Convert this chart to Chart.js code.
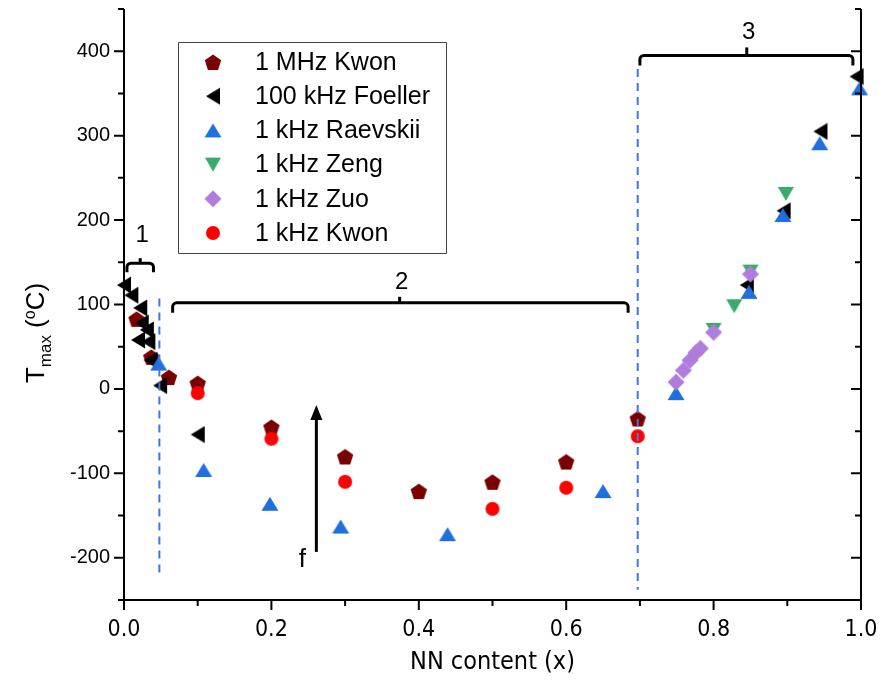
<!DOCTYPE html>
<html>
<head>
<meta charset="utf-8">
<script src="https://cdn.jsdelivr.net/npm/chart.js@4.4.1/dist/chart.umd.min.js"></script>
<style>
  html, body { margin: 0; padding: 0; background: #fff; }
</style>
</head>
<body>
<canvas id="tmaxChart" width="882" height="695"></canvas>
<script>
// Tmax vs NN content
const kwon1MHzX = [0.017, 0.037, 0.061, 0.1, 0.2, 0.3, 0.4, 0.5, 0.6, 0.697];
const kwon1MHzY = [83, 38, 14, 7, -45, -80, -121, -110, -86, -35];

const foellerX = [0.0, 0.01, 0.022, 0.024, 0.031, 0.019, 0.033, 0.036, 0.049, 0.1, 0.845, 0.895, 0.945, 0.994];
const foellerY = [123, 111, 96, 78, 70, 58, 56, 34, 4, -54, 123, 211, 305, 370];

const raevskiiX = [0.047, 0.108, 0.198, 0.294, 0.439, 0.65, 0.749, 0.848, 0.894, 0.944, 0.998];
const raevskiiY = [30, -96, -136, -163, -172, -121, -5, 115, 206, 291, 356];

const zengX = [0.8, 0.828, 0.85, 0.898];
const zengY = [70, 98, 139, 231];

const zuoX = [0.749, 0.759, 0.768, 0.776, 0.782, 0.8, 0.85];
const zuoY = [8, 22, 34, 43, 48, 67, 136];

const kwon1kHzX = [0.1, 0.2, 0.3, 0.5, 0.6, 0.697];
const kwon1kHzY = [-5, -59, -110, -142, -117, -56];

const xTicks = [0, 0.2, 0.4, 0.6, 0.8, 1.0];
const yTicks = [-200, -100, 0, 100, 200, 300, 400];

// marker images (pentagon is not a built-in point style)
function makeMarker(shape, color) {
    const c = document.createElement('canvas');
    c.width = 20; c.height = 20;
    const g = c.getContext('2d');
    const cx = 10, cy = 10;
    g.fillStyle = color;
    g.beginPath();
    if (shape === 'circle') {
        g.arc(cx, cy, 7, 0, Math.PI * 2);
    } else if (shape === 'pentagon') {
        for (let k = 0; k < 5; k++) {
            const a = -Math.PI / 2 + k * 2 * Math.PI / 5;
            g.lineTo(cx + 8.6 * Math.cos(a), cy + 1 + 8.6 * Math.sin(a));
        }
    } else if (shape === 'up') {
        g.moveTo(cx, cy - 7); g.lineTo(cx + 8.5, cy + 7); g.lineTo(cx - 8.5, cy + 7);
    } else if (shape === 'down') {
        g.moveTo(cx - 8, cy - 7); g.lineTo(cx + 8, cy - 7); g.lineTo(cx, cy + 7);
    } else if (shape === 'left') {
        g.moveTo(cx - 7, cy); g.lineTo(cx + 7, cy - 8.5); g.lineTo(cx + 7, cy + 8.5);
    } else if (shape === 'diamond') {
        g.moveTo(cx, cy - 8.5); g.lineTo(cx + 8.5, cy); g.lineTo(cx, cy + 8.5); g.lineTo(cx - 8.5, cy);
    }
    g.closePath();
    g.fill();
    return c;
}

function pts(xs, ys) {
    return xs.map((x, i) => ({ x: x, y: ys[i] }));
}

const series = [
    { label: '1 MHz Kwon', xs: kwon1MHzX, ys: kwon1MHzY, shape: 'pentagon', color: '#7a0000', order: 6 },
    { label: '100 kHz Foeller', xs: foellerX, ys: foellerY, shape: 'left', color: '#000000', order: 5 },
    { label: '1 kHz Raevskii', xs: raevskiiX, ys: raevskiiY, shape: 'up', color: '#1f6fdc', order: 4 },
    { label: '1 kHz Zeng', xs: zengX, ys: zengY, shape: 'down', color: '#3aab6a', order: 3 },
    { label: '1 kHz Zuo', xs: zuoX, ys: zuoY, shape: 'diamond', color: '#b07ddc', order: 2 },
    { label: '1 kHz Kwon', xs: kwon1kHzX, ys: kwon1kHzY, shape: 'circle', color: '#ff0000', order: 1 }
];
series.forEach(s => s.img = makeMarker(s.shape, s.color));

// annotation geometry, in data units
const dividers = [
    { x: 0.048, y0: 107, y1: -224 },
    { x: 0.697, y0: 379, y1: -238 }
];
const brackets = [
    { x0: 0.004, x1: 0.04, xm: 0.022, y: 149, hook: 9, tick: 5, text: '1', ty: 182 },
    { x0: 0.066, x1: 0.684, xm: 0.374, y: 102, hook: 10, tick: 6, text: '2', ty: 126 },
    { x0: 0.70, x1: 0.989, xm: 0.845, y: 395, hook: 10, tick: 8, text: '3', ty: 422 }
];

function noPad(scale) {
    scale.paddingLeft = 0;
    scale.paddingRight = 0;
    scale.paddingTop = 0;
    scale.paddingBottom = 0;
}

const decorPlugin = {
    id: 'decor',
    afterDatasetsDraw(chart) {
        const { ctx, scales: { x, y } } = chart;
        const px = v => x.getPixelForValue(v);
        const py = v => y.getPixelForValue(v);
        const ca = chart.chartArea;
        ctx.save();

        // dashed dividers
        ctx.strokeStyle = '#3f78d8';
        ctx.lineWidth = 2;
        ctx.setLineDash([8, 6]);
        dividers.forEach(d => {
            ctx.beginPath();
            ctx.moveTo(px(d.x), py(d.y0));
            ctx.lineTo(px(d.x), py(d.y1));
            ctx.stroke();
        });
        ctx.setLineDash([]);

        // brackets
        ctx.strokeStyle = '#000';
        ctx.fillStyle = '#000';
        ctx.lineWidth = 3;
        ctx.lineJoin = 'round';
        ctx.font = '24px "Liberation Sans", Arial, sans-serif';
        ctx.textAlign = 'center';
        ctx.textBaseline = 'middle';
        brackets.forEach(b => {
            const x0 = px(b.x0), x1 = px(b.x1), xm = px(b.xm), yb = py(b.y);
            ctx.beginPath();
            ctx.moveTo(x0, yb + b.hook);
            ctx.arcTo(x0, yb, x1, yb, 4);
            ctx.arcTo(x1, yb, x1, yb + b.hook, 4);
            ctx.lineTo(x1, yb + b.hook);
            ctx.stroke();
            ctx.beginPath();
            ctx.moveTo(xm, yb);
            ctx.lineTo(xm, yb - b.tick);
            ctx.stroke();
            ctx.fillText(b.text, xm + 2, py(b.ty));
        });

        // frequency arrow
        const ax = px(0.261), aTop = py(-19), aBot = py(-193);
        ctx.beginPath();
        ctx.moveTo(ax, aBot);
        ctx.lineTo(ax, aTop + 12);
        ctx.stroke();
        ctx.beginPath();
        ctx.moveTo(ax, aTop);
        ctx.lineTo(ax + 6, aTop + 15);
        ctx.lineTo(ax - 6, aTop + 15);
        ctx.closePath();
        ctx.fill();
        ctx.font = '26px "Liberation Sans", Arial, sans-serif';
        ctx.fillText('f', px(0.242), py(-203));

        // axes lines and ticks
        ctx.lineWidth = 2;
        ctx.beginPath();
        ctx.moveTo(ca.left, ca.top); ctx.lineTo(ca.left, ca.bottom);
        ctx.moveTo(ca.left - 5, ca.bottom); ctx.lineTo(ca.right, ca.bottom);
        ctx.moveTo(ca.right, ca.top); ctx.lineTo(ca.right, ca.bottom);
        y.ticks.forEach(t => {
            const major = Math.round(t.value) % 100 === 0;
            const len = major ? 10 : 6;
            const yy = py(t.value);
            ctx.moveTo(ca.left - len, yy); ctx.lineTo(ca.left, yy);
            ctx.moveTo(ca.right - len, yy); ctx.lineTo(ca.right, yy);
        });
        x.ticks.forEach(t => {
            const major = Math.round(t.value * 10) % 2 === 0;
            const len = major ? 10 : 6;
            const xx = px(t.value);
            ctx.moveTo(xx, ca.bottom); ctx.lineTo(xx, ca.bottom + len);
        });
        ctx.stroke();

        // legend
        const lx = 178, ly = 42, lw = 268, lh = 211;
        ctx.lineWidth = 1;
        ctx.strokeStyle = '#444';
        ctx.strokeRect(lx + 0.5, ly + 0.5, lw, lh);
        ctx.font = '25px "Liberation Sans", Arial, sans-serif';
        ctx.textAlign = 'left';
        ctx.fillStyle = '#000';
        chart.data.datasets.forEach((ds, i) => {
            const rowY = 62 + i * 34.2;
            ctx.drawImage(ds.pointStyle, 213 - 10, rowY - 10);
            ctx.fillText(ds.label, 255, rowY + 1);
        });

        // y title with subscript
        ctx.translate(35, 333);
        ctx.rotate(-Math.PI / 2);
        const big = '26px "Liberation Sans", Arial, sans-serif';
        const small = '17px "Liberation Sans", Arial, sans-serif';
        const tiny = '16px "Liberation Sans", Arial, sans-serif';
        const parts = [
            { t: 'T', f: big, dy: 0 },
            { t: 'max', f: small, dy: 7 },
            { t: ' (', f: big, dy: 0 },
            { t: 'o', f: tiny, dy: -9 },
            { t: 'C)', f: big, dy: 0 }
        ];
        let total = 0;
        parts.forEach(p => { ctx.font = p.f; p.w = ctx.measureText(p.t).width; total += p.w; });
        let cur = -total / 2;
        ctx.textBaseline = 'alphabetic';
        parts.forEach(p => {
            ctx.font = p.f;
            ctx.fillText(p.t, cur, 9 + p.dy);
            cur += p.w;
        });
        ctx.restore();
    }
};

const ctx = document.getElementById('tmaxChart').getContext('2d');

const tmaxChart = new Chart(ctx, {
    type: 'scatter',
    data: {
        datasets: series.map(s => ({
            label: s.label,
            data: pts(s.xs, s.ys),
            pointStyle: s.img,
            backgroundColor: s.color,
            borderColor: s.color,
            order: s.order,
            clip: false
        }))
    },
    options: {
        responsive: false,
        animation: false,
        layout: { padding: { top: 9, left: 0, right: 0, bottom: 0 } },
        plugins: {
            legend: { display: false },
            tooltip: { enabled: false }
        },
        scales: {
            x: {
                type: 'linear',
                min: 0,
                max: 1.0,
                afterFit: scale => { scale.height = 95; noPad(scale); },
                grid: { display: false, drawTicks: true, tickLength: 10 },
                border: { display: false },
                ticks: {
                    stepSize: 0.1,
                    padding: 6,
                    maxRotation: 0,
                    color: '#000',
                    font: { family: '"Liberation Sans Narrow", "DejaVu Sans Condensed", sans-serif', size: 23 },
                    callback: v => {
                        const k = Math.round(v * 10);
                        return k % 2 === 0 && xTicks.includes(k / 10) ? (k / 10).toFixed(1) : '';
                    }
                },
                title: {
                    display: true,
                    text: 'NN content (x)',
                    color: '#000',
                    font: { family: '"Liberation Sans Narrow", "DejaVu Sans Condensed", sans-serif', size: 25 },
                    padding: { top: 0, bottom: 18 }
                }
            },
            y: {
                type: 'linear',
                position: 'left',
                min: -250,
                max: 450,
                afterFit: scale => { scale.width = 124; noPad(scale); },
                grid: { display: false, drawTicks: true, tickLength: 10 },
                border: { display: false },
                ticks: {
                    stepSize: 50,
                    padding: 4,
                    color: '#000',
                    font: { family: '"Liberation Sans", Arial, sans-serif', size: 20 },
                    callback: v => yTicks.includes(v) ? String(v) : ''
                }
            },
            yRight: {
                type: 'linear',
                position: 'right',
                min: -250,
                max: 450,
                afterFit: scale => { scale.width = 21; noPad(scale); },
                grid: { display: false },
                border: { display: false },
                ticks: { display: false }
            }
        }
    },
    plugins: [decorPlugin]
});
</script>
</body>
</html>
